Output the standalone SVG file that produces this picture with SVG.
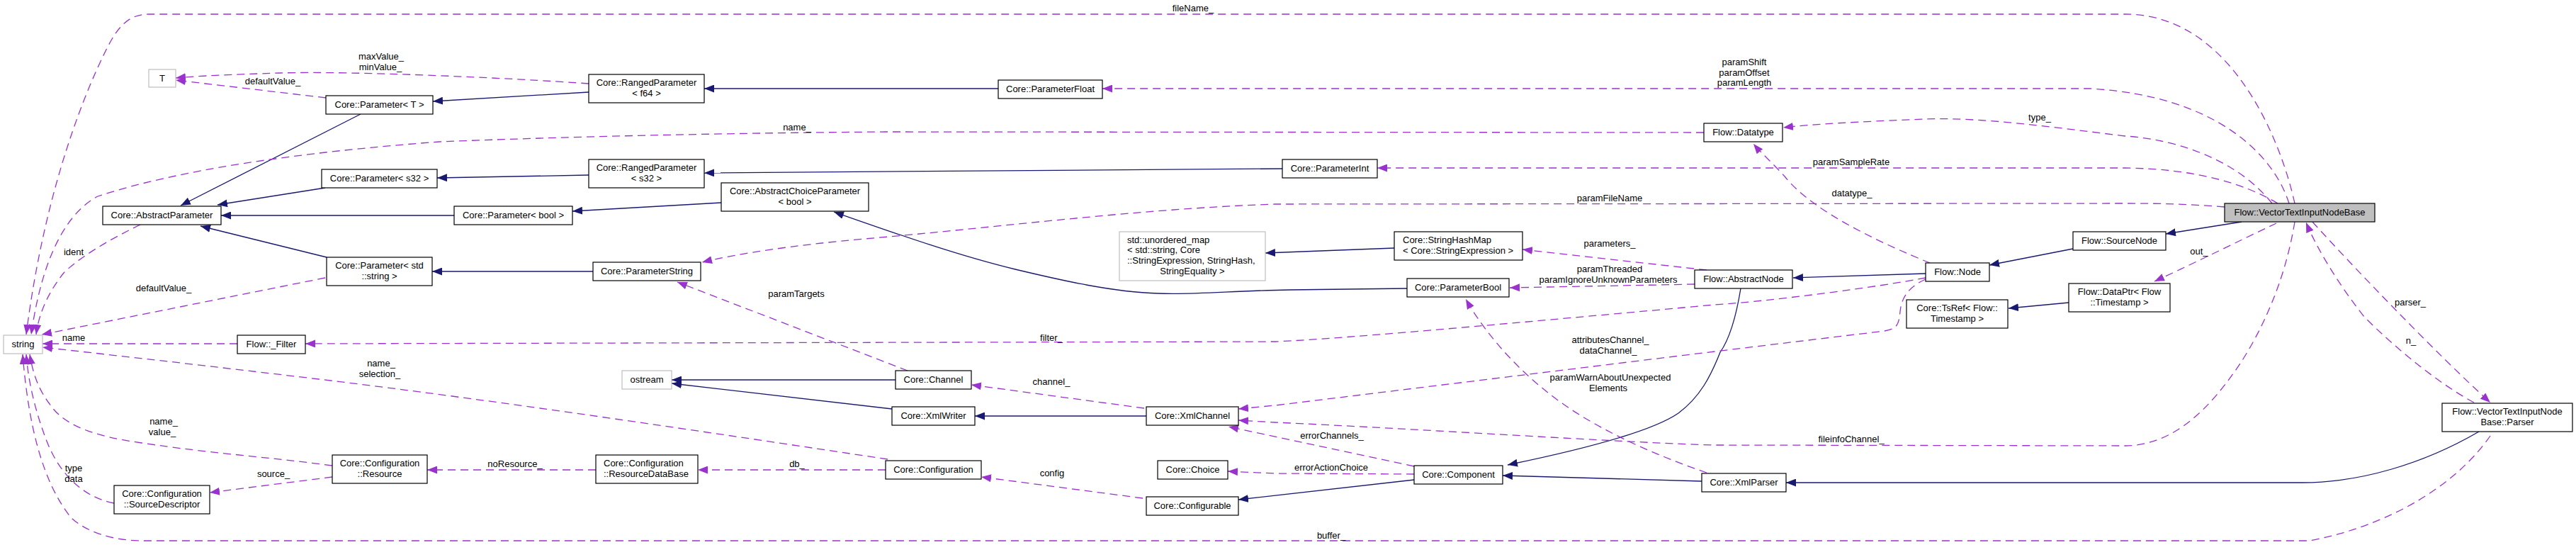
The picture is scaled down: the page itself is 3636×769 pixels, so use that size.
<svg xmlns="http://www.w3.org/2000/svg" width="3636" height="769" viewBox="0 0 3636 769">
<style>
text{font-family:"Liberation Sans",Arial,Helvetica,sans-serif;font-size:13px;fill:#000}
.c{text-anchor:middle}
.n rect{fill:#fff;stroke:#000;stroke-width:1.2}
.g rect{fill:#fff;stroke:#bfbfbf;stroke-width:1.2}
.root rect{fill:#bfbfbf;stroke:#000;stroke-width:1.2}
.i{fill:none;stroke:#191970;stroke-width:1.3;marker-end:url(#mi)}
.u{fill:none;stroke:#9a32cd;stroke-width:1.3;stroke-dasharray:11 7;marker-end:url(#mu)}
.lb text{text-anchor:middle}
</style>
<defs>
<marker id="mi" viewBox="0 0 14 11" refX="14" refY="5.5" markerWidth="14" markerHeight="11" markerUnits="userSpaceOnUse" orient="auto"><path d="M0,0 L14,5.5 L0,11 z" fill="#191970"/></marker>
<marker id="mu" viewBox="0 0 14 11" refX="14" refY="5.5" markerWidth="14" markerHeight="11" markerUnits="userSpaceOnUse" orient="auto"><path d="M0,0 L14,5.5 L0,11 z" fill="#9a32cd"/></marker>
</defs>
<rect x="0" y="0" width="3636" height="769" fill="#fff"/>
<g id="connectors">
<!-- inheritance -->
<path class="i" d="M509,161 L255,290"/>
<path class="i" d="M831,130 L611,143"/>
<path class="i" d="M1409,125 L994,125"/>
<path class="i" d="M459,265 L307,289"/>
<path class="i" d="M831,247 L617,251"/>
<path class="i" d="M1810,238 L994,244"/>
<path class="i" d="M641,304 L312,304"/>
<path class="i" d="M1018,286 L808,298"/>
<path class="i" d="M1986,407 L1820,409 C1740,410 1690,416 1635,414 C1570,412 1500,396 1433,380 C1350,360 1260,328 1177,299"/>
<path class="i" d="M837,383 L610,383"/>
<path class="i" d="M461,363 L283,319"/>
<path class="i" d="M1968,350 L1786,357"/>
<path class="i" d="M2457,407 C2450,450 2440,480 2428,497 C2415,530 2400,560 2369,583 C2330,610 2230,635 2128,656"/>
<path class="i" d="M2402,679 L2121,671"/>
<path class="i" d="M3499,609 C3420,655 3330,681 3250,681 L2521,681"/>
<path class="i" d="M1996,677 L1748,705"/>
<path class="i" d="M1618,587 L1376,587"/>
<path class="i" d="M1259,577 L948,541"/>
<path class="i" d="M1264,536 L948,536"/>
<path class="i" d="M2926,351 L2808,374"/>
<path class="i" d="M2718,386 L2531,392"/>
<path class="i" d="M3164,313 L3057,330"/>
<path class="i" d="M2920,427 L2835,435"/>
<!-- usage -->
<g class="lb">
<path class="u" d="M3239,287 C3220,200 3150,20 3000,20 L210,20 C180,20 165,40 150,70 C110,150 60,290 37,472"/>
<text x="1684" y="16">fileName_</text>
</g>
<g class="lb">
<path class="u" d="M2405,187 L1250,186 C1000,188 800,193 620,200 C420,215 250,240 138,277 C95,300 60,360 44,472"/>
<text x="1125" y="184">name_</text>
</g>
<g class="lb">
<path class="u" d="M198,317 C150,340 110,365 90,385 C70,410 55,440 51,472"/>
<text x="104" y="360">ident</text>
</g>
<g class="lb">
<path class="u" d="M831,118 C720,110 500,100 395,103 C330,105 280,107 248,110"/>
<text x="538" y="84">maxValue_</text>
<text x="537" y="99">minValue_</text>
</g>
<g class="lb">
<path class="u" d="M460,138 L248,113"/>
<text x="385" y="119">defaultValue_</text>
</g>
<g class="lb">
<path class="u" d="M3231,287 C3210,220 3130,135 2950,125 L1556,125"/>
<text x="2462" y="92">paramShift</text>
<text x="2462" y="107">paramOffset</text>
<text x="2462" y="121">paramLength</text>
</g>
<g class="lb">
<path class="u" d="M3207,287 C3150,215 3050,195 3000,192 C2900,180 2800,165 2716,168 C2620,172 2560,175 2517,180"/>
<text x="2879" y="170">type_</text>
</g>
<g class="lb">
<path class="u" d="M3215,287 C3170,260 3100,238 3000,237 L1944,237"/>
<text x="2613" y="233">paramSampleRate</text>
</g>
<g class="lb">
<path class="u" d="M2724,371 C2660,345 2560,300 2520,250 C2500,228 2485,215 2475,203"/>
<text x="2614" y="277">datatype_</text>
</g>
<g class="lb">
<path class="u" d="M3140,292 C3090,288 3050,287 3000,287 L1800,288 C1600,295 1400,322 1220,337 C1120,346 1040,358 991,370"/>
<text x="2272" y="284">paramFileName</text>
</g>
<g class="lb">
<path class="u" d="M2409,381 L2149,352"/>
<text x="2272" y="348">parameters_</text>
</g>
<g class="lb">
<path class="u" d="M2392,401 L2131,406"/>
<text x="2272" y="384">paramThreaded</text>
<text x="2270" y="399">paramIgnoreUnknownParameters</text>
</g>
<g class="lb">
<path class="u" d="M2718,392 C2650,405 2500,425 2420,430 C2200,450 1900,478 1800,482 L431,485"/>
<text x="1484" y="481">filter_</text>
</g>
<g class="lb">
<path class="u" d="M2718,394 C2700,402 2684,415 2682,440 C2680,458 2678,464 2660,467 L2420,496 L1800,572 L1748,577"/>
<text x="2273" y="484">attributesChannel_</text>
<text x="2270" y="499">dataChannel_</text>
</g>
<g class="lb">
<path class="u" d="M3213,315 C3160,340 3100,370 3041,397"/>
<text x="3104" y="359">out_</text>
</g>
<g class="lb">
<path class="u" d="M3239,313 C3225,400 3190,470 3162,513 C3120,575 3070,628 3000,629 L2420,628 C2300,625 2000,605 1800,596 L1748,593"/>
<text x="2613" y="624">fileinfoChannel_</text>
</g>
<g class="lb">
<path class="u" d="M1996,658 L1734,602"/>
<text x="1880" y="619">errorChannels_</text>
</g>
<g class="lb">
<path class="u" d="M1996,669 L1800,668 L1733,665"/>
<text x="1879" y="664">errorActionChoice</text>
</g>
<g class="lb">
<path class="u" d="M2409,667 C2330,640 2240,600 2180,550 C2130,510 2090,460 2069,422"/>
<text x="2273" y="537">paramWarnAboutUnexpected</text>
<text x="2270" y="552">Elements</text>
</g>
<g class="lb">
<path class="u" d="M1613,703 L1385,673"/>
<text x="1485" y="672">config</text>
</g>
<g class="lb">
<path class="u" d="M1250,663 L985,663"/>
<text x="1125" y="659">db_</text>
</g>
<g class="lb">
<path class="u" d="M841,663 L603,663"/>
<text x="727" y="659">noResource_</text>
</g>
<g class="lb">
<path class="u" d="M469,673 L296,695"/>
<text x="386" y="673">source_</text>
</g>
<g class="lb">
<path class="u" d="M161,710 C110,700 80,660 65,620 C50,580 40,540 37,500"/>
<text x="104" y="665">type</text>
<text x="104" y="680">data</text>
</g>
<g class="lb">
<path class="u" d="M469,657 C380,645 300,640 200,625 C130,615 90,600 70,570 C55,550 47,530 42,500"/>
<text x="231" y="599">name_</text>
<text x="229" y="614">value_</text>
</g>
<g class="lb">
<path class="u" d="M1253,648 C1000,610 700,565 450,535 C300,517 150,500 60,490"/>
<text x="538" y="517">name_</text>
<text x="536" y="532">selection_</text>
</g>
<g class="lb">
<path class="u" d="M335,485 L60,485"/>
<text x="104" y="481">name</text>
</g>
<g class="lb">
<path class="u" d="M459,392 L59,472"/>
<text x="231" y="411">defaultValue_</text>
</g>
<g class="lb">
<path class="u" d="M3515,615 C3470,680 3380,740 3260,763 L200,763 C160,763 120,750 100,730 C60,680 40,600 32,500"/>
<text x="1879" y="760">buffer_</text>
</g>
<g class="lb">
<path class="u" d="M1615,576 L1371,543"/>
<text x="1484" y="543">channel_</text>
</g>
<g class="lb">
<path class="u" d="M1281,523 L956,398"/>
<text x="1124" y="419">paramTargets</text>
</g>
<g class="lb">
<path class="u" d="M3492,568 C3440,540 3380,490 3337,447 C3300,400 3270,350 3255,314"/>
<text x="3403" y="485">n_</text>
</g>
<g class="lb">
<path class="u" d="M3264,313 C3320,375 3440,500 3515,568"/>
<text x="3402" y="431">parser_</text>
</g>
</g>
<g id="n_T" class="g"><rect x="210" y="98" width="38" height="25"/><text class="c" x="229" y="115">T</text></g>
<g id="n_string" class="g"><rect x="5" y="473" width="55" height="26"/><text class="c" x="32.5" y="490">string</text></g>
<g id="n_ostream" class="g"><rect x="878" y="523" width="70" height="26"/><text class="c" x="913" y="540">ostream</text></g>
<g id="n_unordered_map" class="g"><rect x="1580" y="327" width="206" height="69"/><text x="1591" y="343">std::unordered_map</text><text x="1591" y="357">&lt; std::string, Core</text><text x="1591" y="372">::StringExpression, StringHash,</text><text class="c" x="1683" y="387">StringEquality &gt;</text></g>
<g id="n_ParameterT" class="n"><rect x="460" y="135" width="151" height="26"/><text class="c" x="535.5" y="152">Core::Parameter&lt; T &gt;</text></g>
<g id="n_AbstractParameter" class="n"><rect x="145" y="291" width="167" height="26"/><text class="c" x="228.5" y="308">Core::AbstractParameter</text></g>
<g id="n_ParameterS32" class="n"><rect x="454" y="239" width="163" height="26"/><text class="c" x="535.5" y="256">Core::Parameter&lt; s32 &gt;</text></g>
<g id="n_ParameterStdString" class="n"><rect x="461" y="363" width="149" height="40"/><text class="c" x="535.5" y="379">Core::Parameter&lt; std</text><text class="c" x="535.5" y="394">::string &gt;</text></g>
<g id="n_Filter" class="n"><rect x="335" y="473" width="96" height="26"/><text class="c" x="383" y="490">Flow::_Filter</text></g>
<g id="n_Resource" class="n"><rect x="469" y="642" width="134" height="40"/><text class="c" x="536" y="658">Core::Configuration</text><text class="c" x="536" y="673">::Resource</text></g>
<g id="n_SourceDescriptor" class="n"><rect x="161" y="685" width="135" height="40"/><text class="c" x="228.5" y="701">Core::Configuration</text><text class="c" x="228.5" y="716">::SourceDescriptor</text></g>
<g id="n_RangedF64" class="n"><rect x="831" y="105" width="163" height="40"/><text class="c" x="912.5" y="121">Core::RangedParameter</text><text class="c" x="912.5" y="136">&lt; f64 &gt;</text></g>
<g id="n_RangedS32" class="n"><rect x="831" y="225" width="163" height="40"/><text class="c" x="912.5" y="241">Core::RangedParameter</text><text class="c" x="912.5" y="256">&lt; s32 &gt;</text></g>
<g id="n_ParameterBoolT" class="n"><rect x="641" y="291" width="167" height="26"/><text class="c" x="724.5" y="308">Core::Parameter&lt; bool &gt;</text></g>
<g id="n_AbstractChoice" class="n"><rect x="1018" y="258" width="208" height="40"/><text class="c" x="1122" y="274">Core::AbstractChoiceParameter</text><text class="c" x="1122" y="289">&lt; bool &gt;</text></g>
<g id="n_ParameterString" class="n"><rect x="837" y="370" width="152" height="26"/><text class="c" x="913" y="387">Core::ParameterString</text></g>
<g id="n_ResourceDataBase" class="n"><rect x="841" y="642" width="144" height="40"/><text x="852" y="658">Core::Configuration</text><text x="852" y="673">::ResourceDataBase</text></g>
<g id="n_ParameterFloat" class="n"><rect x="1409" y="113" width="147" height="26"/><text class="c" x="1482.5" y="130">Core::ParameterFloat</text></g>
<g id="n_Channel" class="n"><rect x="1264" y="523" width="107" height="26"/><text class="c" x="1317.5" y="540">Core::Channel</text></g>
<g id="n_XmlWriter" class="n"><rect x="1259" y="574" width="117" height="26"/><text class="c" x="1317.5" y="591">Core::XmlWriter</text></g>
<g id="n_XmlChannel" class="n"><rect x="1618" y="574" width="130" height="26"/><text class="c" x="1683" y="591">Core::XmlChannel</text></g>
<g id="n_Configuration" class="n"><rect x="1250" y="650" width="135" height="26"/><text class="c" x="1317.5" y="667">Core::Configuration</text></g>
<g id="n_Choice" class="n"><rect x="1634" y="650" width="99" height="26"/><text class="c" x="1683.5" y="667">Core::Choice</text></g>
<g id="n_Configurable" class="n"><rect x="1618" y="701" width="130" height="26"/><text class="c" x="1683" y="718">Core::Configurable</text></g>
<g id="n_ParameterInt" class="n"><rect x="1810" y="225" width="134" height="26"/><text class="c" x="1877" y="242">Core::ParameterInt</text></g>
<g id="n_Datatype" class="n"><rect x="2405" y="174" width="111" height="26"/><text class="c" x="2460.5" y="191">Flow::Datatype</text></g>
<g id="n_StringHashMap" class="n"><rect x="1968" y="327" width="181" height="40"/><text x="1980" y="343">Core::StringHashMap</text><text x="1980" y="358">&lt; Core::StringExpression &gt;</text></g>
<g id="n_ParameterBool" class="n"><rect x="1986" y="393" width="144" height="26"/><text class="c" x="2058" y="410">Core::ParameterBool</text></g>
<g id="n_AbstractNode" class="n"><rect x="2392" y="381" width="138" height="26"/><text class="c" x="2461" y="398">Flow::AbstractNode</text></g>
<g id="n_Node" class="n"><rect x="2718" y="371" width="90" height="26"/><text class="c" x="2763" y="388">Flow::Node</text></g>
<g id="n_SourceNode" class="n"><rect x="2926" y="327" width="131" height="26"/><text class="c" x="2991.5" y="344">Flow::SourceNode</text></g>
<g id="n_TsRef" class="n"><rect x="2691" y="423" width="143" height="40"/><text class="c" x="2762.5" y="439">Core::TsRef&lt; Flow::</text><text class="c" x="2762.5" y="454">Timestamp &gt;</text></g>
<g id="n_DataPtr" class="n"><rect x="2920" y="400" width="143" height="40"/><text class="c" x="2991.5" y="416">Flow::DataPtr&lt; Flow</text><text class="c" x="2991.5" y="431">::Timestamp &gt;</text></g>
<g id="n_XmlParser" class="n"><rect x="2402" y="668" width="119" height="26"/><text class="c" x="2461.5" y="685">Core::XmlParser</text></g>
<g id="n_Component" class="n"><rect x="1996" y="657" width="125" height="26"/><text class="c" x="2058.5" y="674">Core::Component</text></g>
<g id="n_VectorTextInputNodeBase" class="root"><rect x="3140" y="287" width="212" height="26"/><text class="c" x="3246" y="304">Flow::VectorTextInputNodeBase</text></g>
<g id="n_Parser" class="n"><rect x="3447" y="569" width="184" height="40"/><text class="c" x="3539" y="585">Flow::VectorTextInputNode</text><text class="c" x="3539" y="600">Base::Parser</text></g>
</svg>
